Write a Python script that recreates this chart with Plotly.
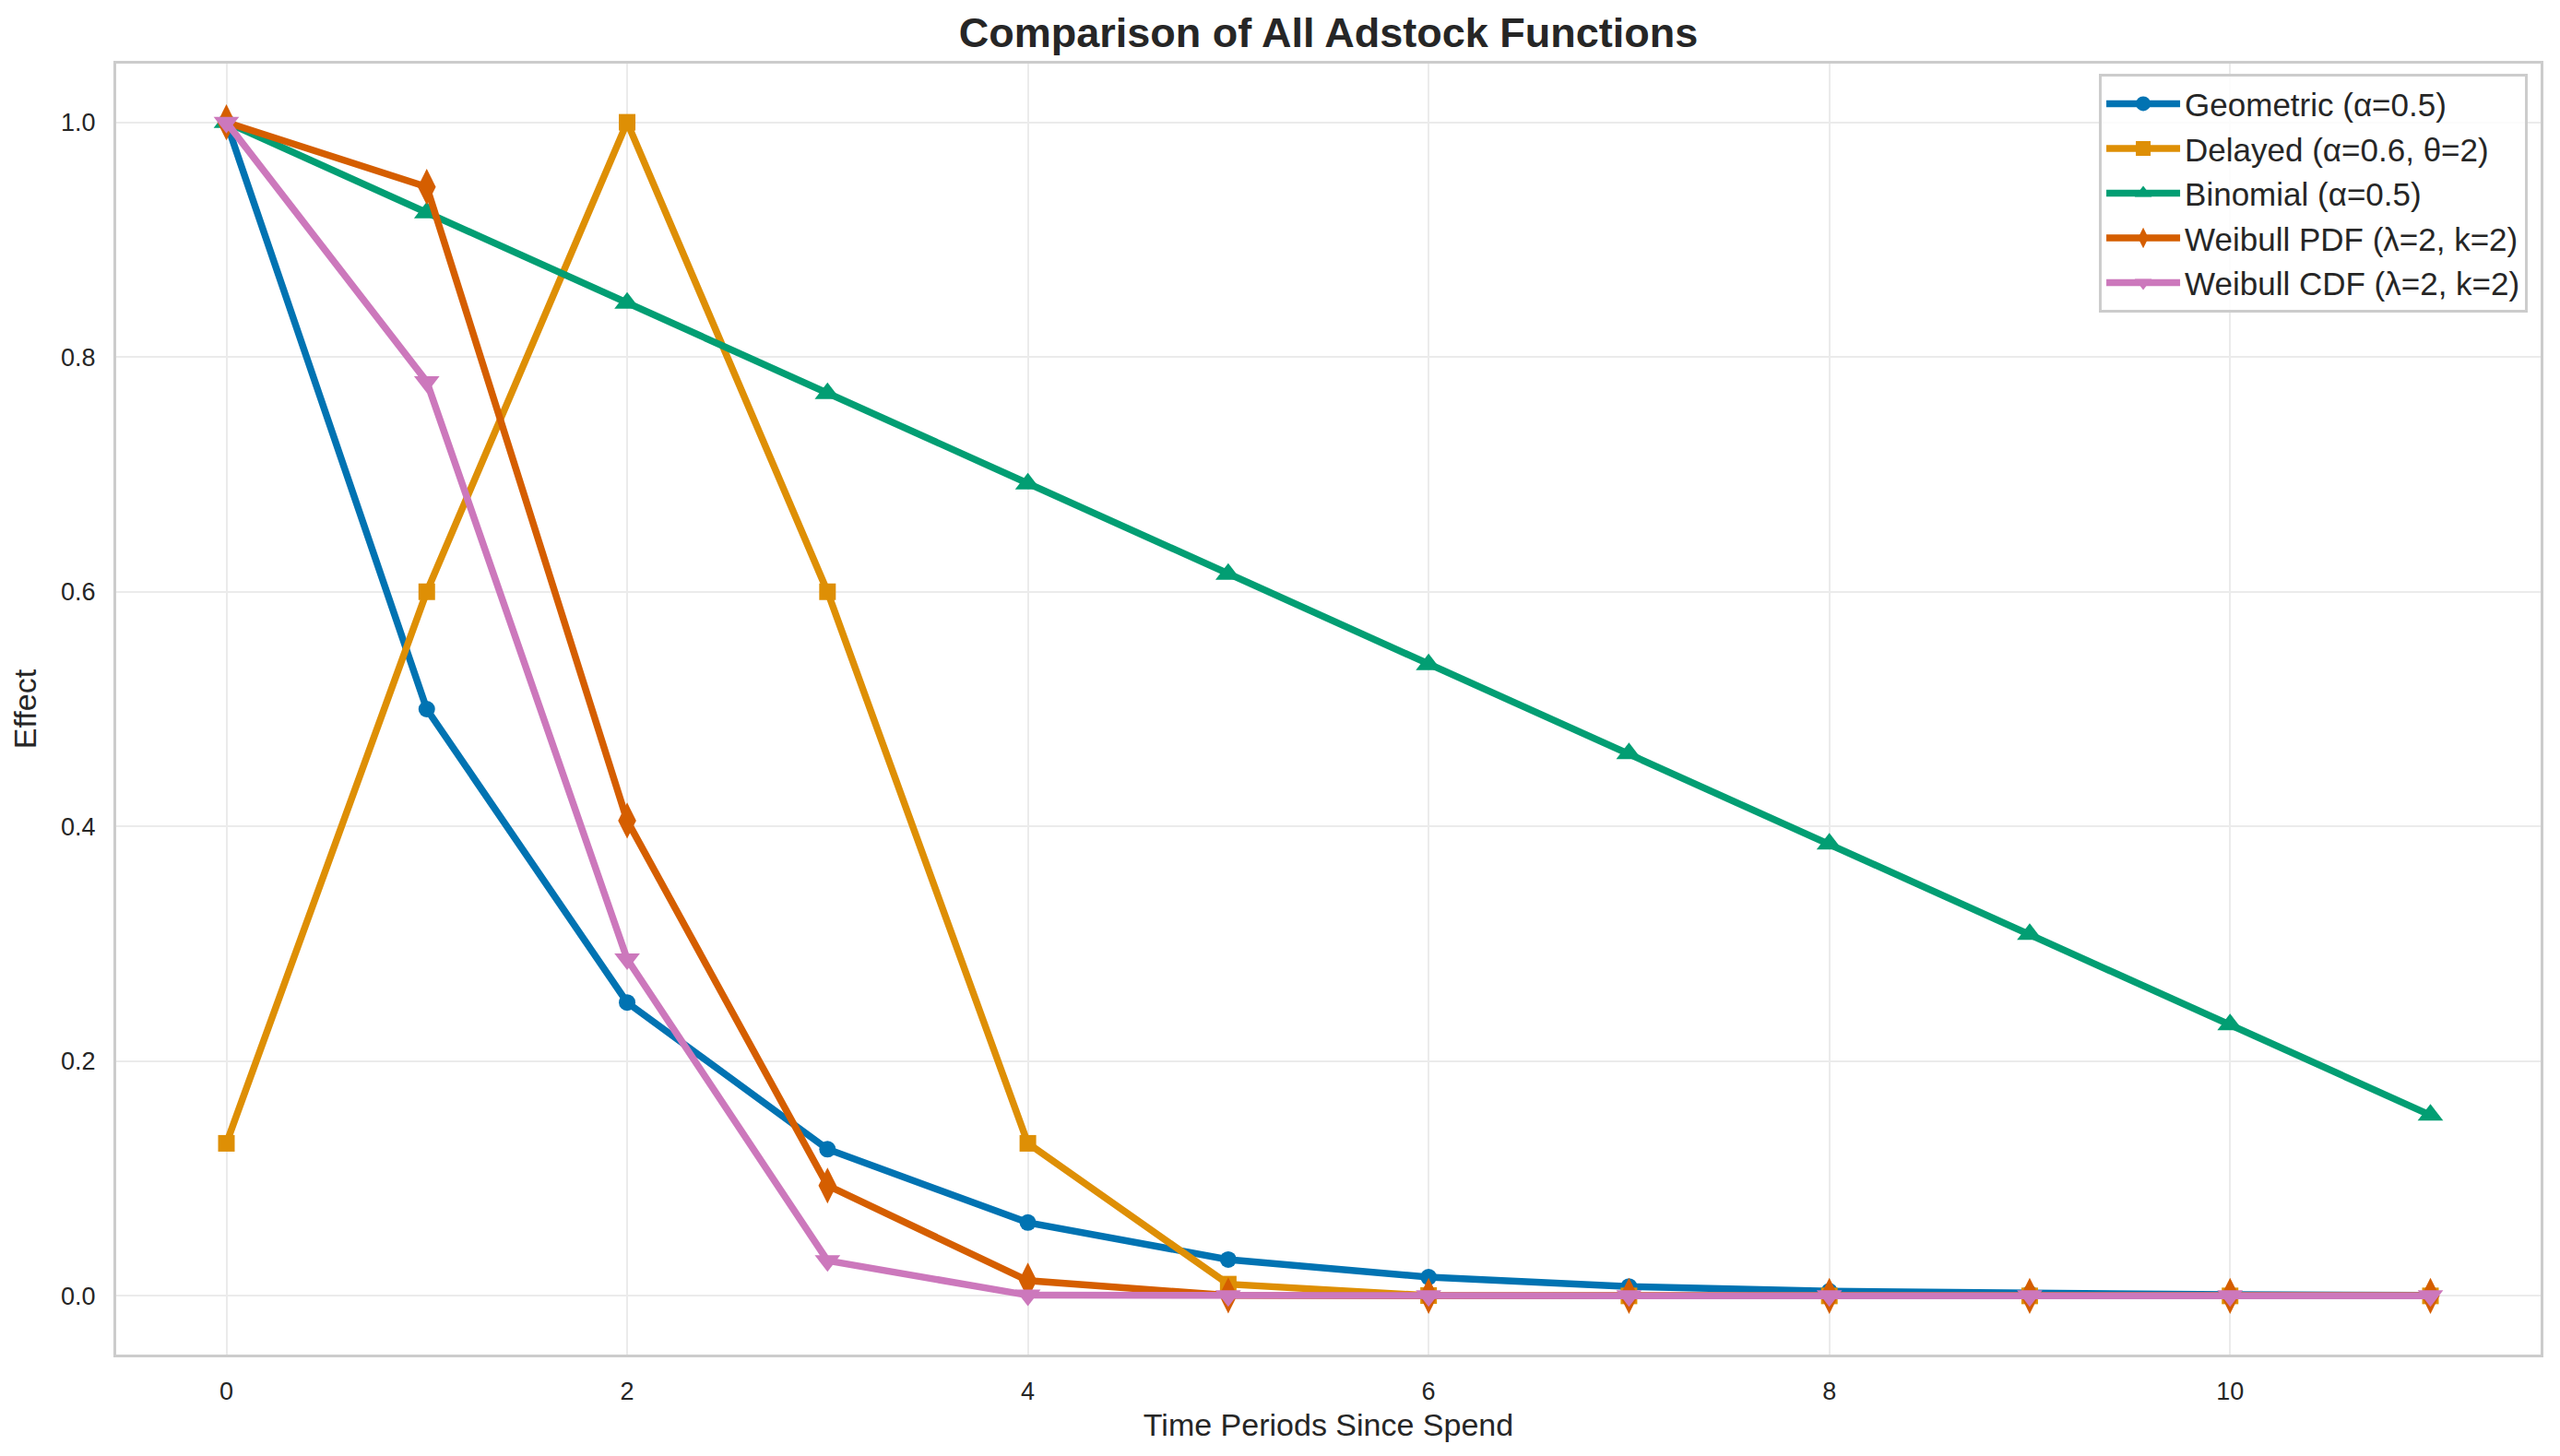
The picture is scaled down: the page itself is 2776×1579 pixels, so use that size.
import plotly.graph_objects as go

# time axis
periods = list(range(12))

# adstock curves
geometric = [1.0, 0.5, 0.25, 0.125, 0.0625, 0.031, 0.016, 0.008, 0.004, 0.002, 0.001, 0.0005]
delayed = [0.13, 0.6, 1.0, 0.6, 0.13, 0.01, 0.0003, 0.0, 0.0, 0.0, 0.0, 0.0]
binomial = [1.0, 0.923, 0.846, 0.769, 0.692, 0.615, 0.538, 0.462, 0.385, 0.308, 0.231, 0.154]
weibull_pdf = [1.0, 0.945, 0.405, 0.094, 0.013, 0.0004, 0.0, 0.0, 0.0, 0.0, 0.0, 0.0]
weibull_cdf = [1.0, 0.779, 0.287, 0.030, 0.0006, 0.0, 0.0, 0.0, 0.0, 0.0, 0.0, 0.0]

names = ["Geometric (α=0.5)", "Delayed (α=0.6, θ=2)", "Binomial (α=0.5)",
         "Weibull PDF (λ=2, k=2)", "Weibull CDF (λ=2, k=2)"]
colors = ["#0173B2", "#DE8F05", "#029E73", "#D55E00", "#CC78BC"]
symbols = ["circle", "square", "triangle-up", "diamond-tall", "triangle-down"]
sizes = [18, 18, 24, 28, 24]

FONT = "Liberation Sans, Arial, Helvetica, sans-serif"
TXT = "#262626"

# page body adds a small margin, so figure is a bit smaller than the window
W, H = 2768, 1571

fig = go.Figure()
for ys, name, col, sym, sz in zip([geometric, delayed, binomial, weibull_pdf, weibull_cdf],
                                  names, colors, symbols, sizes):
    fig.add_trace(go.Scatter(
        x=periods, y=ys, mode="lines+markers", name=name,
        line=dict(color=col, width=7.5),
        marker=dict(symbol=sym, size=sz, color=col, line=dict(width=0)),
    ))

fig.update_layout(
    width=W, height=H,
    margin=dict(l=118, r=21, t=61, b=110),
    paper_bgcolor="white", plot_bgcolor="white",
    font=dict(family=FONT, color=TXT, size=27),
    title=dict(text="<b>Comparison of All Adstock Functions</b>",
               font=dict(size=45, color=TXT), x=0.5, xref="paper",
               y=1 - 27 / H, yanchor="middle"),
    legend=dict(x=0.9947, y=0.992, xanchor="right", yanchor="top",
                bgcolor="rgba(255,255,255,0.85)", bordercolor="#cccccc", borderwidth=3,
                font=dict(size=35, color=TXT), itemwidth=80),
    showlegend=True,
)

fig.update_xaxes(
    range=[-0.55, 11.55], dtick=2, tick0=0,
    showgrid=True, gridcolor="#ebebeb", gridwidth=2, zeroline=False,
    showline=True, mirror=True, linecolor="#cccccc", linewidth=3,
    ticks="outside", ticklen=14, tickcolor="rgba(0,0,0,0)",
    title=dict(text="Time Periods Since Spend", font=dict(size=34), standoff=10),
)
fig.update_yaxes(
    range=[-0.05, 1.05], dtick=0.2, tick0=0, tickformat=".1f",
    showgrid=True, gridcolor="#ebebeb", gridwidth=2, zeroline=False,
    showline=True, mirror=True, linecolor="#cccccc", linewidth=3,
    ticks="outside", ticklen=14, tickcolor="rgba(0,0,0,0)",
    title=dict(text="Effect", font=dict(size=34), standoff=18),
)

fig.write_html("out.html")
